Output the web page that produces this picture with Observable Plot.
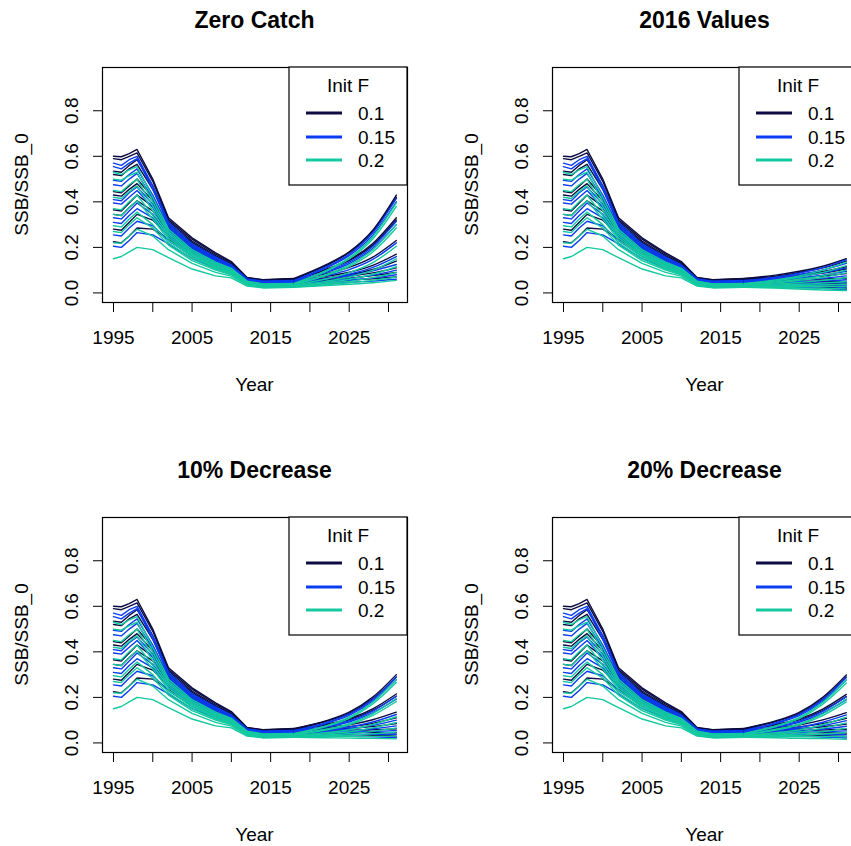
<!DOCTYPE html>
<html><head><meta charset="utf-8">
<script src="https://cdn.jsdelivr.net/npm/d3@7"></script>
<script src="https://cdn.jsdelivr.net/npm/@observablehq/plot@0.6"></script>
<style>
body{margin:0;background:#fff;}
#wrap{position:relative;width:851px;height:846px;overflow:hidden;background:#fff;font-family:"Liberation Sans",Arial,sans-serif;}
.panel{position:absolute;width:450px;height:450px;}
.panel svg{position:absolute;left:0;top:0;}
</style>
</head><body>
<div id="wrap"></div>
<script>
// ---- data ----
const years_hist = [1995,1996,1997,1998,2000,2002,2005,2008,2010,2012,2014,2018];
const years_proj = [2022,2025,2028,2031];
const fLevels = ["0.1","0.15","0.2"];
const fColors = ["#0c0c42","#0a3cf2","#14c9a0"];
const panelTitles = ["Zero Catch","2016 Values","10% Decrease","20% Decrease"];
const xTicks = [1995,2000,2005,2010,2015,2020,2025,2030];
const xTickLabels = [1995,2005,2015,2025];
const yTicks = [0,0.2,0.4,0.6,0.8];

const hist_F010 = [
 [0.600,0.598,0.612,0.630,0.500,0.330,0.242,0.176,0.138,0.068,0.058,0.064],
 [0.590,0.585,0.600,0.615,0.490,0.322,0.236,0.170,0.133,0.066,0.057,0.062],
 [0.535,0.530,0.560,0.585,0.470,0.315,0.228,0.164,0.128,0.064,0.056,0.060],
 [0.520,0.515,0.545,0.565,0.455,0.305,0.222,0.158,0.124,0.062,0.054,0.058],
 [0.445,0.440,0.470,0.500,0.420,0.295,0.215,0.152,0.120,0.060,0.052,0.056],
 [0.430,0.425,0.455,0.480,0.405,0.285,0.208,0.147,0.116,0.058,0.050,0.054],
 [0.365,0.360,0.395,0.430,0.380,0.275,0.200,0.142,0.111,0.056,0.048,0.052],
 [0.345,0.340,0.375,0.405,0.360,0.265,0.194,0.137,0.106,0.054,0.047,0.050],
 [0.280,0.275,0.310,0.345,0.320,0.250,0.184,0.131,0.101,0.052,0.045,0.048],
 [0.225,0.220,0.250,0.285,0.280,0.235,0.174,0.125,0.096,0.050,0.044,0.046]
];
const hist_F015 = [
 [0.570,0.560,0.585,0.600,0.470,0.310,0.215,0.157,0.123,0.062,0.052,0.055],
 [0.555,0.545,0.570,0.590,0.455,0.300,0.209,0.152,0.119,0.060,0.050,0.053],
 [0.495,0.490,0.520,0.545,0.430,0.290,0.203,0.146,0.115,0.058,0.048,0.051],
 [0.475,0.470,0.500,0.525,0.415,0.282,0.197,0.141,0.112,0.056,0.046,0.049],
 [0.410,0.405,0.440,0.465,0.390,0.272,0.190,0.136,0.108,0.054,0.044,0.047],
 [0.395,0.390,0.420,0.450,0.375,0.265,0.184,0.131,0.105,0.052,0.042,0.045],
 [0.330,0.325,0.360,0.395,0.345,0.255,0.177,0.126,0.100,0.050,0.040,0.043],
 [0.310,0.305,0.340,0.370,0.330,0.245,0.171,0.121,0.097,0.048,0.039,0.041],
 [0.255,0.250,0.285,0.315,0.295,0.230,0.161,0.116,0.093,0.046,0.037,0.039],
 [0.205,0.200,0.230,0.265,0.255,0.215,0.151,0.110,0.088,0.044,0.035,0.037]
];
const hist_F020 = [
 [0.530,0.520,0.540,0.555,0.420,0.280,0.190,0.135,0.108,0.052,0.040,0.042],
 [0.500,0.495,0.515,0.530,0.400,0.270,0.182,0.130,0.104,0.050,0.038,0.040],
 [0.450,0.445,0.475,0.500,0.380,0.262,0.176,0.125,0.100,0.048,0.036,0.038],
 [0.420,0.415,0.445,0.470,0.360,0.252,0.170,0.120,0.096,0.046,0.034,0.036],
 [0.370,0.365,0.400,0.430,0.340,0.242,0.164,0.115,0.092,0.044,0.032,0.034],
 [0.345,0.340,0.375,0.405,0.325,0.232,0.158,0.110,0.088,0.042,0.030,0.032],
 [0.295,0.290,0.325,0.355,0.300,0.220,0.150,0.105,0.084,0.040,0.028,0.030],
 [0.270,0.265,0.300,0.330,0.285,0.210,0.142,0.100,0.080,0.038,0.027,0.029],
 [0.220,0.218,0.250,0.280,0.250,0.190,0.130,0.090,0.074,0.034,0.025,0.027],
 [0.150,0.160,0.180,0.200,0.190,0.155,0.105,0.075,0.066,0.030,0.022,0.025]
];

// projections 2022, 2025, 2028, 2031
const proj_zero_F010 = [
 [0.123,0.181,0.276,0.430],[0.119,0.177,0.270,0.420],[0.103,0.146,0.217,0.330],[0.100,0.142,0.210,0.320],
 [0.084,0.112,0.157,0.230],[0.073,0.091,0.121,0.170],[0.066,0.080,0.103,0.140],[0.062,0.073,0.088,0.110],
 [0.057,0.065,0.076,0.090],[0.051,0.056,0.062,0.070]
];
const proj_zero_F015 = [
 [0.113,0.170,0.264,0.415],[0.109,0.164,0.254,0.400],[0.093,0.135,0.204,0.315],[0.089,0.129,0.195,0.300],
 [0.075,0.102,0.147,0.220],[0.063,0.082,0.112,0.160],[0.060,0.076,0.097,0.125],[0.052,0.063,0.078,0.100],
 [0.048,0.056,0.066,0.080],[0.042,0.047,0.052,0.060]
];
const proj_zero_F020 = [
 [0.098,0.155,0.247,0.395],[0.094,0.149,0.237,0.380],[0.080,0.122,0.190,0.300],[0.076,0.116,0.180,0.285],
 [0.061,0.089,0.133,0.205],[0.051,0.070,0.100,0.150],[0.045,0.060,0.082,0.115],[0.040,0.051,0.067,0.090],
 [0.036,0.045,0.055,0.070],[0.032,0.038,0.045,0.055]
];
const proj_2016_F010 = [
 [0.078,0.095,0.117,0.150],[0.074,0.090,0.110,0.140],[0.069,0.080,0.094,0.115],[0.066,0.075,0.087,0.105],
 [0.061,0.066,0.074,0.085],[0.056,0.058,0.061,0.065],[0.052,0.051,0.051,0.050],[0.047,0.045,0.042,0.040],
 [0.043,0.038,0.034,0.030],[0.038,0.032,0.026,0.020]
];
const proj_2016_F015 = [
 [0.069,0.087,0.111,0.145],[0.065,0.081,0.101,0.130],[0.060,0.072,0.088,0.110],[0.056,0.066,0.078,0.095],
 [0.051,0.057,0.064,0.075],[0.047,0.050,0.053,0.058],[0.043,0.044,0.044,0.045],[0.039,0.038,0.036,0.035],
 [0.035,0.031,0.028,0.025],[0.030,0.025,0.020,0.015]
];
const proj_2016_F020 = [
 [0.057,0.075,0.100,0.135],[0.053,0.069,0.090,0.120],[0.048,0.060,0.076,0.100],[0.044,0.055,0.068,0.088],
 [0.039,0.046,0.055,0.068],[0.035,0.038,0.043,0.050],[0.031,0.033,0.035,0.038],[0.029,0.028,0.028,0.028],
 [0.024,0.022,0.020,0.018],[0.021,0.017,0.013,0.010]
];
const proj_dec10_F010 = [
 [0.097,0.135,0.201,0.300],[0.094,0.130,0.194,0.290],[0.082,0.107,0.150,0.215],[0.079,0.102,0.143,0.205],
 [0.067,0.080,0.102,0.135],[0.062,0.071,0.086,0.110],[0.058,0.064,0.072,0.085],[0.053,0.056,0.058,0.062],
 [0.047,0.047,0.046,0.045],[0.041,0.037,0.034,0.030]
];
const proj_dec10_F015 = [
 [0.088,0.126,0.191,0.290],[0.085,0.121,0.184,0.278],[0.073,0.097,0.140,0.205],[0.069,0.092,0.132,0.192],
 [0.058,0.070,0.092,0.125],[0.053,0.062,0.077,0.100],[0.048,0.053,0.062,0.075],[0.044,0.047,0.050,0.055],
 [0.039,0.039,0.038,0.038],[0.033,0.030,0.027,0.024]
];
const proj_dec10_F020 = [
 [0.075,0.113,0.179,0.278],[0.072,0.108,0.171,0.265],[0.060,0.085,0.129,0.195],[0.056,0.080,0.121,0.182],
 [0.045,0.058,0.081,0.115],[0.040,0.049,0.066,0.090],[0.035,0.041,0.051,0.066],[0.032,0.035,0.040,0.048],
 [0.028,0.028,0.029,0.030],[0.023,0.021,0.020,0.018]
];
const proj_dec20_F010 = [
 [0.097,0.134,0.200,0.298],[0.094,0.129,0.193,0.288],[0.082,0.106,0.149,0.213],[0.079,0.101,0.142,0.203],
 [0.067,0.079,0.101,0.133],[0.062,0.070,0.085,0.108],[0.058,0.063,0.071,0.083],[0.053,0.055,0.057,0.060],
 [0.047,0.046,0.045,0.043],[0.041,0.036,0.033,0.028]
];
const proj_dec20_F015 = [
 [0.088,0.125,0.190,0.288],[0.085,0.120,0.183,0.276],[0.073,0.096,0.139,0.203],[0.069,0.091,0.131,0.190],
 [0.058,0.069,0.091,0.123],[0.053,0.061,0.076,0.098],[0.048,0.052,0.061,0.073],[0.044,0.046,0.049,0.053],
 [0.039,0.038,0.037,0.036],[0.033,0.029,0.026,0.022]
];
const proj_dec20_F020 = [
 [0.075,0.112,0.178,0.276],[0.072,0.107,0.170,0.263],[0.060,0.084,0.128,0.193],[0.056,0.079,0.120,0.180],
 [0.045,0.057,0.080,0.113],[0.040,0.048,0.065,0.088],[0.035,0.040,0.050,0.064],[0.032,0.034,0.039,0.046],
 [0.028,0.027,0.028,0.028],[0.023,0.020,0.019,0.016]
];

const hist = [hist_F010, hist_F015, hist_F020];
const projections = [
 [proj_zero_F010, proj_zero_F015, proj_zero_F020],
 [proj_2016_F010, proj_2016_F015, proj_2016_F020],
 [proj_dec10_F010, proj_dec10_F015, proj_dec10_F020],
 [proj_dec20_F010, proj_dec20_F015, proj_dec20_F020]
];

// ---- drawing ----
const W = 450, H = 450;
const mL = 102, mR = 43, mT = 67, mB = 148;
const FONT = "'Liberation Sans', Arial, Helvetica, sans-serif";
const wrap = document.getElementById("wrap");

panelTitles.forEach((title, p) => {
  const histRows = [], projRows = [];
  hist.forEach((Hf, f) => Hf.forEach((h, i) => {
    const run = fLevels[f] + "-" + i;
    years_hist.forEach((yr, k) => histRows.push({year: yr, ssb: h[k], F: fLevels[f], run}));
    // projection continues from the last historical value
    projRows.push({year: years_hist[years_hist.length - 1], ssb: h[h.length - 1], F: fLevels[f], run});
    years_proj.forEach((yr, k) => projRows.push({year: yr, ssb: projections[p][f][i][k], F: fLevels[f], run}));
  }));

  const chart = Plot.plot({
    width: W, height: H,
    marginLeft: mL, marginRight: mR, marginTop: mT, marginBottom: mB,
    style: {fontFamily: FONT, fontSize: "19px", color: "#000", background: "transparent", overflow: "visible"},
    x: {domain: [1993.6, 2032.42]},
    y: {domain: [-0.042, 0.99]},
    color: {domain: fLevels, range: fColors},
    marks: [
      Plot.line(histRows, {x: "year", y: "ssb", z: "run", stroke: "F", strokeWidth: 1.4, curve: "linear"}),
      Plot.line(projRows, {x: "year", y: "ssb", z: "run", stroke: "F", strokeWidth: 1.4, curve: "monotone-x"}),
      Plot.frame({stroke: "#000", strokeWidth: 1.2}),
      Plot.axisX({ticks: xTicks, tickSize: 10, tickPadding: 18, label: null, fontSize: 19,
        tickFormat: d => xTickLabels.includes(d) ? String(d) : ""}),
      Plot.axisY({ticks: yTicks, tickSize: 9, label: null, tickFormat: () => ""}),
      Plot.text(yTicks, {y: d => d, frameAnchor: "left", dx: -31, rotate: -90, text: d => d.toFixed(1),
        textAnchor: "middle", lineAnchor: "middle", fontSize: 19, fill: "#000"})
    ]
  });

  const div = document.createElement("div");
  div.className = "panel";
  div.style.left = (p % 2) * W + "px";
  div.style.top = Math.floor(p / 2) * H + "px";
  div.appendChild(chart);
  wrap.appendChild(div);

  // overlay: title, axis titles, legend
  const cx = mL + (W - mL - mR) / 2;
  const cy = mT + (H - mT - mB) / 2;
  const svg = d3.select(div).append("svg").attr("width", W).attr("height", H)
    .style("font-family", FONT).style("pointer-events", "none");
  svg.append("text").attr("x", cx).attr("y", 20).attr("text-anchor", "middle")
    .attr("dominant-baseline", "central").attr("font-weight", "bold").attr("font-size", 23).text(title);
  svg.append("text").attr("x", cx).attr("y", 384).attr("text-anchor", "middle")
    .attr("dominant-baseline", "central").attr("font-size", 19).text("Year");
  svg.append("text").attr("transform", `translate(21,${cy}) rotate(-90)`).attr("text-anchor", "middle")
    .attr("dominant-baseline", "central").attr("font-size", 19).text("SSB/SSB_0");

  const lg = svg.append("g");
  const lx = 289, ly = mT, lw = (W - mR) - 289, lh = 118;
  lg.append("rect").attr("x", lx).attr("y", ly).attr("width", lw).attr("height", lh)
    .attr("fill", "#fff").attr("stroke", "#000").attr("stroke-width", 1.2);
  lg.append("text").attr("x", lx + lw / 2).attr("y", 85).attr("text-anchor", "middle")
    .attr("dominant-baseline", "central").attr("font-size", 19).text("Init F");
  const rowY = [113, 137, 160];
  fLevels.forEach((lab, i) => {
    lg.append("line").attr("x1", 306).attr("x2", 342).attr("y1", rowY[i]).attr("y2", rowY[i])
      .attr("stroke", fColors[i]).attr("stroke-width", 3);
    lg.append("text").attr("x", 358).attr("y", rowY[i]).attr("dominant-baseline", "central")
      .attr("font-size", 19).text(lab);
  });
});
</script>
</body></html>
